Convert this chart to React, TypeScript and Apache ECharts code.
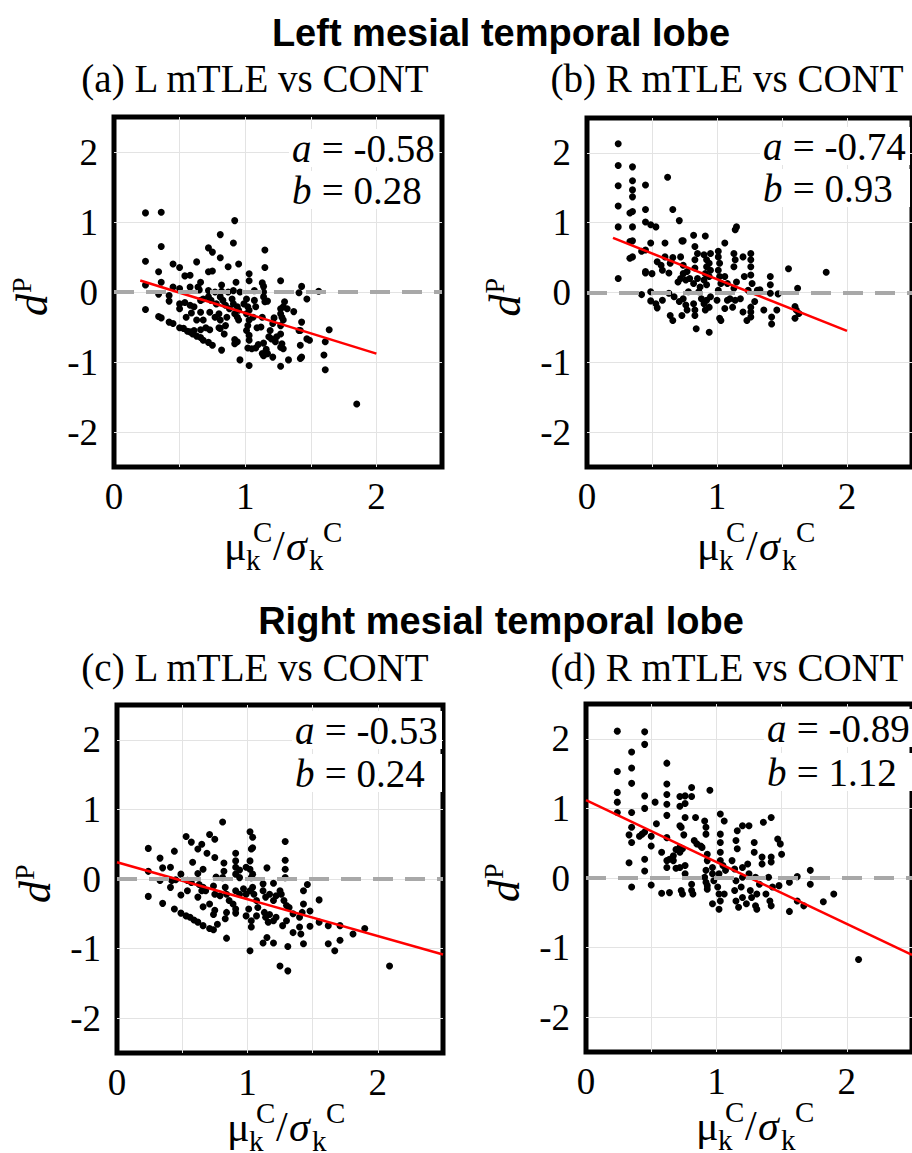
import React, { useEffect, useRef } from 'react';
import * as echarts from 'echarts';

const sectionTitles = ['Left mesial temporal lobe', 'Right mesial temporal lobe'];
const panelTitles = ['(a) L mTLE vs CONT', '(b) R mTLE vs CONT', '(c) L mTLE vs CONT', '(d) R mTLE vs CONT'];
const slopes = [-0.58, -0.74, -0.53, -0.89];
const intercepts = [0.28, 0.93, 0.24, 1.12];
const fitStart = [0.2, 0.2, 0, 0];
const fitEnd = [2.0, 2.0, 2.5, 2.5];
const xTickLabels = [0, 1, 2];
const xGridValues = [0.5, 1, 1.5, 2];
const yTickLabels = [-2, -1, 0, 1, 2];

const pointsA = [
  [0.24,1.13],[0.36,1.14],[0.92,1.02],[0.81,0.82],[0.91,0.70],[0.36,0.65],[0.72,0.63],[0.75,0.57],[1.15,0.60],[0.81,0.49],[0.24,0.44],[0.63,0.43],[0.45,0.40],[0.50,0.35],[0.87,0.36],[0.95,0.40],[0.72,0.29],[0.75,0.30],[1.15,0.35],[0.34,0.29],[0.54,0.23],[0.58,0.24],[1.03,0.26],[1.27,0.16],[0.36,0.14],[0.66,0.14],[0.64,0.07],[0.82,0.10],[0.93,0.14],[1.03,0.16],[1.13,0.13],[1.14,0.08],[1.43,0.08],[1.56,0.01],[0.24,0.10],[0.45,0.07],[0.50,0.05],[0.58,0.07],
  [0.34,-0.03],[0.42,-0.05],[0.65,0.03],[0.72,0.02],[0.77,0.00],[0.82,0.01],[0.87,0.00],[0.91,0.02],[0.96,-0.00],[1.07,0.02],[1.14,0.00],[1.41,-0.01],[1.47,-0.10],
  [0.42,-0.13],[0.50,-0.17],[0.54,-0.15],[0.58,-0.19],[0.61,-0.21],[0.66,-0.12],[0.68,-0.10],[0.72,-0.07],[0.74,-0.12],[0.78,-0.17],[0.81,-0.07],[0.83,-0.12],[0.85,-0.19],[0.88,-0.24],[0.90,-0.10],[0.91,-0.17],[0.94,-0.21],[0.95,-0.26],[0.99,-0.17],[1.01,-0.10],[1.02,-0.21],[1.03,-0.26],[1.07,-0.12],[1.08,-0.21],[1.14,-0.07],[1.15,-0.14],[1.17,-0.13],[1.30,-0.14],[1.29,-0.21],[1.27,-0.24],[1.37,-0.28],[0.50,-0.24],[0.59,-0.30],[0.66,-0.29],[0.55,-0.36],[0.63,-0.40],[0.68,-0.40],[0.73,-0.29],[0.77,-0.36],[0.80,-0.31],[0.81,-0.40],[0.86,-0.36],[0.92,-0.31],[0.94,-0.36],[0.95,-0.40],[1.01,-0.31],[1.03,-0.40],[1.06,-0.36],[1.13,-0.36],[1.22,-0.37],[1.27,-0.31],[1.28,-0.36],[1.43,-0.43],[1.41,-0.55],[1.47,-0.67],[1.49,-0.69],[1.64,-0.54],[1.61,-0.71],[1.60,-0.90],[1.61,-1.11],[1.85,-1.60],
  [0.24,-0.25],[0.34,-0.35],[0.36,-0.37],[0.42,-0.43],[0.45,-0.45],[0.50,-0.51],[0.53,-0.52],[0.56,-0.56],[0.58,-0.57],[0.60,-0.60],[0.63,-0.63],[0.66,-0.65],[0.68,-0.69],[0.72,-0.72],[0.75,-0.76],[0.82,-0.83],
  [0.61,-0.55],[0.66,-0.54],[0.70,-0.51],[0.73,-0.54],[0.80,-0.51],[0.85,-0.48],[0.84,-0.60],[0.81,-0.52],
  [0.92,-0.68],[0.94,-0.71],[0.92,-0.74],[1.03,-0.62],[1.03,-0.69],[1.02,-0.80],[1.05,-0.81],[1.08,-0.80],[1.10,-0.75],[1.14,-0.73],[1.13,-0.88],[1.18,-0.64],[1.20,-0.67],[1.23,-0.71],[1.24,-0.64],[1.27,-0.60],[1.27,-0.79],[1.28,-0.74],[1.29,-0.81],[1.27,-1.06],[1.21,-0.93],[1.17,-0.88],[1.33,-0.97],[1.42,-0.95],[1.43,-0.93],[1.42,-0.76],[0.96,-0.97],[1.03,-1.05],[1.14,-0.91],[1.16,-0.82],[1.02,-0.48],[1.01,-0.55],[1.09,-0.51],[1.12,-0.50],[1.19,-0.55],[1.21,-0.45],[1.27,-0.48],[1.29,-0.40],[1.32,-0.24],[1.42,-0.55]
];

const pointsB = [
  [0.24,2.13],[0.24,1.82],[0.24,1.53],[0.24,1.24],[0.24,0.94],[0.24,0.20],
  [0.35,1.80],[0.35,1.60],[0.35,1.47],[0.35,1.37],[0.35,1.16],[0.33,1.14],[0.35,0.94],[0.35,0.74],[0.33,0.73],[0.35,0.51],[0.33,0.49],
  [0.45,1.54],[0.45,1.19],[0.45,1.01],[0.45,0.30],[0.45,0.61],
  [0.62,1.65],[0.66,1.19],[0.71,1.03],[0.49,0.97],[0.53,0.94],[0.49,0.71],[0.42,0.59],[0.42,-0.03],
  [1.15,0.94],[1.14,0.90],[0.91,0.81],[0.82,0.82],[0.74,0.74],[0.73,0.74],[1.06,0.71],
  [0.60,0.71],[0.54,0.44],[0.57,0.39],[0.60,0.51],[0.66,0.50],[0.64,0.42],[0.63,0.28],[0.58,0.32],[0.50,0.27],[0.45,0.28],
  [0.72,0.51],[0.74,0.39],[0.77,0.30],[0.74,0.27],[0.72,0.20],[0.70,0.15],[0.76,0.18],[0.79,0.20],[0.83,0.66],[0.85,0.56],[0.83,0.47],[0.83,0.35],[0.85,0.20],[0.82,0.13],[0.90,0.54],[0.92,0.47],[0.92,0.37],[0.91,0.27],[0.90,0.18],[0.87,0.08],[0.95,0.56],[0.94,0.42],[0.95,0.32],[0.94,0.23],[0.92,0.11],[1.01,0.59],[1.01,0.51],[1.02,0.42],[1.01,0.32],[1.02,0.23],[1.03,0.13],[1.01,0.03],[1.06,0.23],[1.08,0.13],[1.13,0.56],[1.14,0.47],[1.13,0.37],[1.15,0.15],[1.13,0.06],[1.20,0.51],[1.21,0.23],[1.26,0.56],[1.26,0.47],[1.26,0.37],[1.26,0.25],[1.27,0.13],[1.24,0.03],[1.31,0.03],[1.33,0.04],[1.41,0.23],[1.41,0.11],[1.41,-0.01],[1.47,-0.02],[1.55,0.34],[1.84,0.29],[1.62,0.06],
  [0.49,0.01],[0.49,-0.12],[0.53,-0.16],[0.54,-0.22],[0.58,-0.11],[0.63,-0.01],[0.64,-0.33],[0.66,-0.40],[0.67,-0.06],[0.71,-0.13],[0.73,-0.33],[0.74,-0.09],[0.76,-0.18],[0.77,-0.25],[0.78,0.01],[0.82,-0.16],[0.83,-0.25],[0.83,-0.33],[0.84,-0.52],[0.86,0.01],[0.88,-0.09],[0.90,-0.16],[0.91,-0.25],[0.92,-0.11],[0.94,-0.57],[0.94,-0.21],[0.95,-0.06],[1.00,-0.11],[1.02,-0.37],[1.03,-0.40],[1.06,-0.23],[1.08,-0.11],[1.10,-0.09],[1.12,-0.21],[1.14,-0.11],[1.18,-0.09],[1.20,-0.28],[1.23,-0.40],[1.26,-0.21],[1.26,-0.28],[1.26,-0.35],[1.29,-0.13],[1.36,-0.25],[1.42,-0.35],[1.42,-0.45],[1.46,-0.25],[1.60,-0.20],[1.61,-0.25],[1.60,-0.37],[1.63,-0.30]
];

const pointsC = [
  [0.81,0.82],[1.02,0.68],[1.04,0.60],[1.03,0.43],[1.04,0.45],[1.02,0.26],[1.02,0.14],[1.04,0.07],[1.29,0.54],[1.29,0.27],[1.29,0.14],
  [0.53,0.61],[0.57,0.53],[0.62,0.43],[0.65,0.50],[0.69,0.37],[0.71,0.64],[0.75,0.57],[0.75,0.31],[0.82,0.23],[0.82,0.11],[0.91,0.37],[0.91,0.26],[0.91,0.17],[0.94,0.13],[0.99,0.17],[1.15,0.16],[0.24,0.44],[0.33,0.30],[0.35,0.16],[0.41,0.17],[0.44,0.40],[0.58,0.24],[0.66,0.14],[0.62,0.08],[0.76,0.03],[0.81,0.02],[0.91,0.07],[0.94,0.02],[1.03,0.02],[1.12,-0.07],[1.20,-0.06],[1.29,0.02],[1.43,-0.17],[1.46,-0.08],[1.55,-0.30],
  [0.24,0.11],[0.33,-0.02],[0.42,-0.02],[0.49,0.07],[0.45,-0.01],[0.54,-0.02],[0.57,-0.05],[0.63,-0.08],[0.65,-0.17],[0.66,-0.12],[0.68,-0.17],[0.74,-0.10],[0.75,-0.22],[0.79,-0.24],[0.83,-0.12],[0.84,-0.22],[0.86,-0.31],[0.89,-0.36],[0.91,-0.17],[0.94,-0.22],[0.97,-0.14],[0.99,-0.22],[1.02,-0.17],[1.04,-0.12],[1.05,-0.22],[1.07,-0.31],[1.12,-0.17],[1.14,-0.26],[1.17,-0.22],[1.20,-0.31],[1.22,-0.24],[1.25,-0.17],[1.26,-0.22],[1.28,-0.31],[1.30,-0.38],[1.32,-0.41],[1.35,-0.50],[1.40,-0.55],[1.42,-0.48],[1.43,-0.36],[1.48,-0.46],
  [0.24,-0.25],[0.35,-0.35],[0.41,-0.12],[0.49,-0.23],[0.54,-0.17],[0.62,-0.26],[0.66,-0.40],[0.71,-0.36],[0.75,-0.45],[0.74,-0.51],[0.83,-0.57],[0.84,-0.48],[0.91,-0.43],[0.91,-0.49],[0.99,-0.53],[1.01,-0.43],[1.03,-0.60],[1.03,-0.69],[1.07,-0.53],[1.08,-0.41],[1.13,-0.48],[1.14,-0.55],[1.16,-0.62],[1.17,-0.51],[1.20,-0.60],[1.22,-0.55],[1.27,-0.67],[1.30,-0.60],[1.35,-0.77],[1.40,-0.69],[1.41,-0.79],[1.43,-0.93],[1.48,-0.68],[1.55,-0.62],[1.62,-0.67],[1.62,-0.93],[1.67,-1.03],[1.71,-0.67],[1.71,-0.88],[1.81,-0.79],[1.90,-0.71],[2.09,-1.25],[1.02,-1.03],[1.25,-1.25],[1.31,-1.32],[1.20,-0.92],[1.12,-0.92],[1.15,-0.84],[0.84,-0.85],[1.31,-0.97],
  [0.44,-0.43],[0.49,-0.49],[0.53,-0.53],[0.56,-0.55],[0.59,-0.59],[0.62,-0.62],[0.66,-0.67],[0.71,-0.71],[0.74,-0.73],[0.77,-0.65]
];

const pointsD = [
  [0.24,2.11],[0.24,1.53],[0.24,1.23],[0.24,1.09],[0.24,0.94],
  [0.35,1.81],[0.35,1.58],[0.35,1.36],[0.35,0.94],[0.35,0.73],[0.35,0.51],[0.35,-0.13],[0.33,0.62],[0.33,0.22],
  [0.45,2.10],[0.45,1.92],[0.45,1.18],[0.45,1.00],[0.45,0.66],[0.43,0.63],[0.45,0.27],[0.45,0.10],[0.41,0.60],[0.50,0.60],[0.50,0.46],[0.50,-0.10],[0.53,1.09],[0.54,0.78],
  [0.62,1.65],[0.62,1.35],[0.62,1.20],[0.62,1.06],[0.62,0.90],[0.62,0.58],[0.62,0.25],[0.62,0.15],[0.58,0.37],[0.58,-0.22],
  [0.72,1.17],[0.76,1.18],[0.81,1.30],[0.81,1.17],[0.72,1.03],[0.76,1.07],[0.72,0.75],[0.73,0.73],[0.76,0.87],[0.75,0.62],[0.74,0.42],[0.69,0.41],[0.72,0.37],[0.67,0.32],[0.64,0.27],[0.67,0.25],[0.69,0.14],[0.72,0.15],[0.76,0.18],[0.76,0.06],[0.73,-0.18],[0.74,-0.23],[0.81,-0.09],[0.81,-0.18],[0.82,-0.23],[0.84,0.87],[0.83,0.54],[0.85,0.49],[0.88,0.46],[0.89,0.44],[0.91,0.82],[0.92,0.73],[0.92,0.63],[0.93,0.34],[0.93,0.25],[0.92,0.11],[0.91,0.01],[0.92,-0.06],[0.95,1.26],[0.93,-0.11],[0.93,-0.16],[0.97,0.15],[0.97,0.06],[0.98,-0.04],[0.97,-0.37],[1.02,-0.45],[1.03,0.92],[1.06,0.82],[1.03,0.63],[1.03,0.51],[1.03,0.37],[1.03,0.25],[1.05,0.18],[1.02,0.06],[1.01,-0.13],[1.02,-0.23],[1.03,-0.33],[1.06,-0.23],[1.07,0.11],[1.12,0.25],[1.14,0.13],[1.15,0.54],[1.16,0.68],[1.16,0.42],[1.15,-0.04],[1.14,-0.18],[1.15,-0.33],[1.17,-0.42],[1.20,0.75],[1.20,0.15],[1.20,0.01],[1.19,-0.13],[1.20,-0.28],[1.23,-0.37],[1.25,0.75],[1.24,0.20],[1.25,0.06],[1.26,-0.18],[1.27,-0.28],[1.30,-0.40],[1.29,0.51],[1.29,0.37],[1.30,0.01],[1.33,-0.09],[1.31,-0.23],[1.31,-0.45],[1.35,0.30],[1.36,0.80],[1.35,0.20],[1.38,-0.23],[1.40,0.01],[1.42,0.87],[1.42,0.30],[1.42,0.23],[1.43,-0.13],[1.41,-0.33],[1.42,-0.40],[1.47,0.56],[1.49,0.49],[1.50,0.34],[1.48,-0.11],[1.56,-0.06],[1.56,-0.48],[1.62,0.02],[1.62,-0.33],[1.67,-0.40],[1.72,0.11],[1.72,-0.09],[1.82,-0.34],[1.90,-0.23],[2.09,-1.17],[0.64,-0.21],[0.72,0.44]
];

const panelPoints = [pointsA, pointsB, pointsC, pointsD];

const SERIF = 'Liberation Serif';
const SANS = 'Liberation Sans';

const txt = (x: number, y: number, text: string, font: string, align = 'left', extra: any = {}) => ({
  type: 'text', x, y, ...extra,
  style: { text, font, fill: '#000', align, verticalAlign: 'middle' },
});

export default function App() {
  const ref = useRef<HTMLDivElement>(null);
  useEffect(() => {
    if (!ref.current) return;
    const chart = echarts.init(ref.current, null, { renderer: 'svg' });

    const grids = [
      { left: 114, top: 117, width: 328, height: 350 },
      { left: 587, top: 118, width: 328, height: 349 },
      { left: 117, top: 705, width: 326, height: 348 },
      { left: 586, top: 704, width: 328, height: 348 },
    ];

    const xAxes = grids.map((_, i) => ({
      type: 'value', gridIndex: i, min: 0, max: 2.5,
      axisLine: { show: false },
      axisTick: { show: false, customValues: xGridValues },
      axisLabel: { customValues: xTickLabels, fontFamily: SERIF, fontSize: 37, color: '#000', margin: 11 },
      splitLine: { show: true, lineStyle: { color: '#e3e3e3', width: 1 } },
    }));
    const yAxes = grids.map((_, i) => ({
      type: 'value', gridIndex: i, min: -2.5, max: 2.5,
      axisLine: { show: false },
      axisTick: { show: false, customValues: yTickLabels },
      axisLabel: { customValues: yTickLabels, fontFamily: SERIF, fontSize: 37, color: '#000', margin: 16 },
      splitLine: { show: true, lineStyle: { color: '#e3e3e3', width: 1 } },
    }));

    const series: any[] = [];
    grids.forEach((_, i) => {
      series.push({
        type: 'line', xAxisIndex: i, yAxisIndex: i, data: [], z: 1, silent: true,
        markLine: {
          silent: true, symbol: ['none', 'none'], label: { show: false },
          lineStyle: { color: '#a8a8a8', width: 4, type: [20, 12] },
          data: [{ yAxis: 0 }],
        },
      });
      series.push({
        type: 'scatter', xAxisIndex: i, yAxisIndex: i, data: panelPoints[i],
        symbolSize: 7, itemStyle: { color: '#000', opacity: 1 }, z: 3,
      });
      series.push({
        type: 'line', xAxisIndex: i, yAxisIndex: i, z: 4, symbol: 'none',
        data: [
          [fitStart[i], slopes[i] * fitStart[i] + intercepts[i]],
          [fitEnd[i], slopes[i] * fitEnd[i] + intercepts[i]],
        ],
        lineStyle: { color: '#ff0000', width: 2.5 },
      });
    });

    const coefPos = [
      [292, 148, 190], [763, 146, 188], [295, 730, 773], [767, 728, 772],
    ];
    const subtitlePos = [[255, 78], [727, 78], [255, 667], [727, 667]];
    const xTitleOffset = [0, 0, -5, -5];
    const graphic: any[] = [];
    sectionTitles.forEach((t, k) => {
      graphic.push(txt(501, k === 0 ? 33 : 621, t, `bold 38px ${SANS}`, 'center'));
    });
    const fmt = (v: number) => v.toFixed(2);
    grids.forEach((g, i) => {
      graphic.push(txt(subtitlePos[i][0], subtitlePos[i][1], panelTitles[i], `39px ${SERIF}`, 'center'));

      const cx = coefPos[i][0];
      [[coefPos[i][1], 'a', fmt(slopes[i])], [coefPos[i][2], 'b', fmt(intercepts[i])]].forEach(([cy, sym, val]: any) => {
        graphic.push({ type: 'rect', shape: { x: cx - 3, y: cy - 19, width: 150, height: 38 }, style: { fill: '#fff' }, z: 5 });
        graphic.push({ ...txt(cx, cy, sym, `italic 39px ${SERIF}`), z: 6 });
        graphic.push({ ...txt(cx + 20, cy, ` = ${val}`, `39px ${SERIF}`), z: 6 });
      });

      const bx = g.left + 110;
      const by = g.top + g.height + xTitleOffset[i];
      graphic.push({
        type: 'group', x: bx, y: by,
        children: [
          txt(0, 79, 'μ', `42px ${SERIF}`),
          txt(22, 93, 'k', `29px ${SERIF}`),
          txt(29, 65, 'C', `29px ${SERIF}`),
          txt(49, 79, '/', `42px ${SERIF}`),
          txt(62, 79, 'σ', `italic 42px ${SERIF}`),
          txt(85, 93, 'k', `29px ${SERIF}`),
          txt(99, 65, 'C', `29px ${SERIF}`),
        ],
      });

      graphic.push({
        type: 'group', x: g.left - 82, y: g.top + g.height / 2 + 4, rotation: Math.PI / 2,
        children: [
          txt(-20, 0, 'd', `italic 44px ${SERIF}`),
          txt(3, -11, 'P', `28px ${SERIF}`),
        ],
      });
    });

    chart.setOption({
      animation: false,
      backgroundColor: '#fff',
      grid: grids.map(g => ({ ...g, show: true, borderColor: '#000', borderWidth: 5, backgroundColor: 'transparent' })),
      xAxis: xAxes,
      yAxis: yAxes,
      series,
      graphic,
    });
    return () => chart.dispose();
  }, []);

  return <div ref={ref} style={{ position: 'absolute', left: 0, top: 0, width: 912, height: 1153 }} />;
}
